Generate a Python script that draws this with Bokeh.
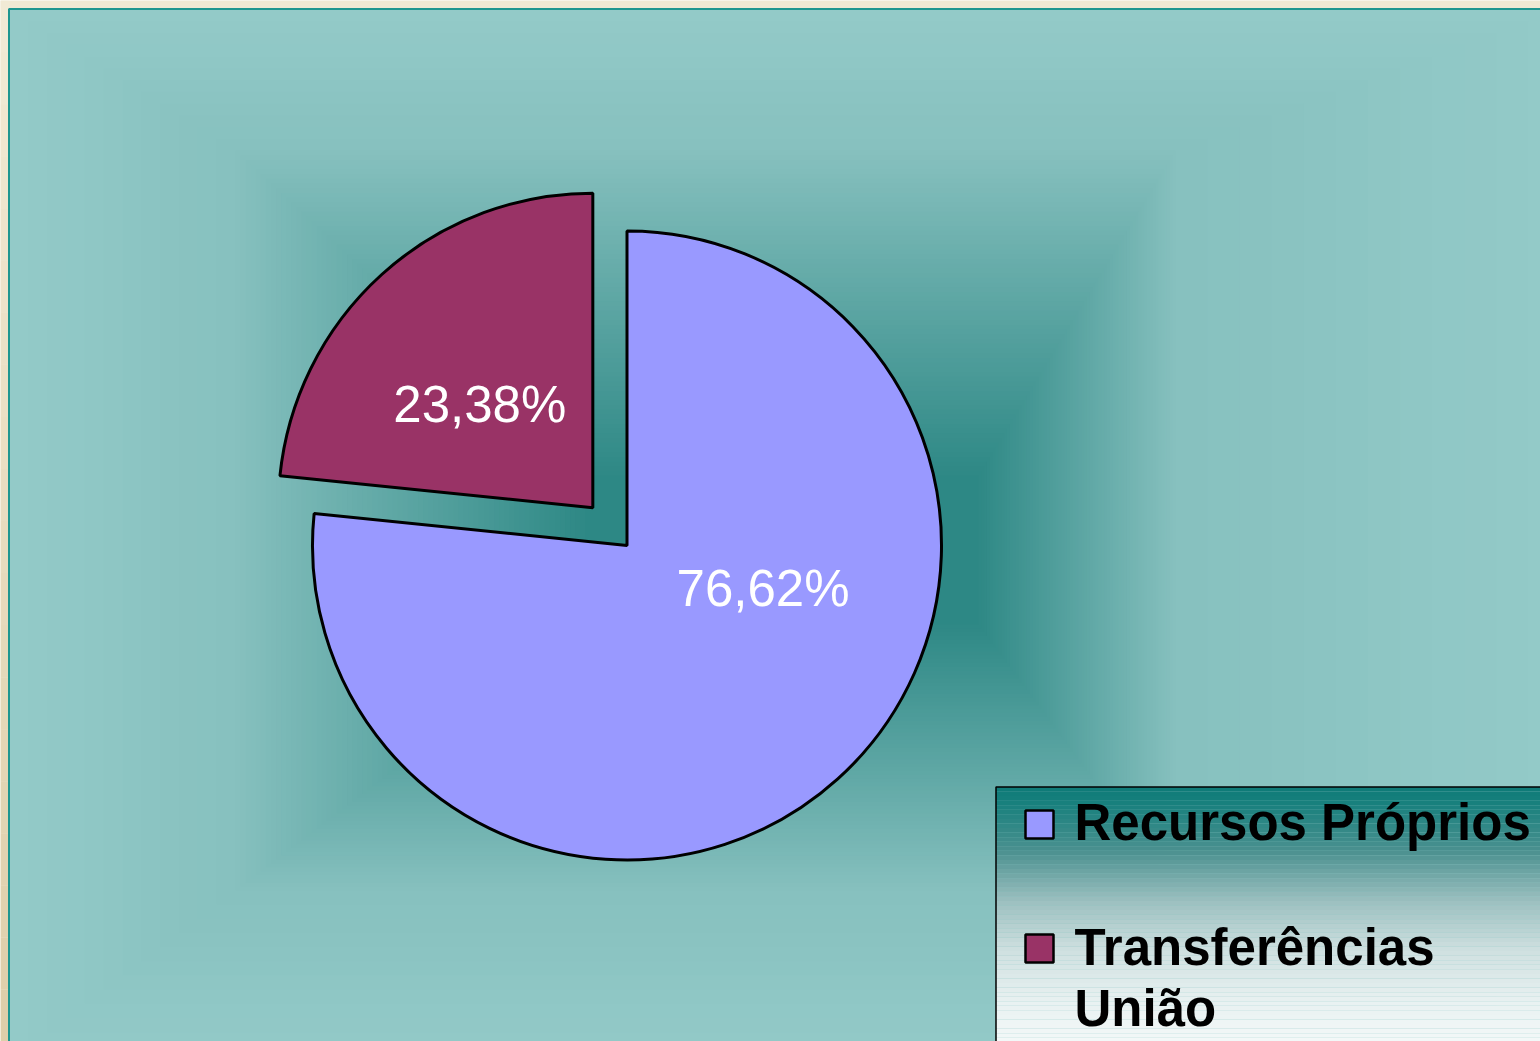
import numpy as np
from bokeh.plotting import figure
from bokeh.models import Range1d
from bokeh.core.properties import value
from bokeh.embed import file_html
from bokeh.resources import INLINE

# ---------------- data ----------------
categories = ["Recursos Próprios", "Transferências União"]
values = [76.62, 23.38]
slice_colors = ["#9999FF", "#993366"]
label_texts = ["76,62%", "23,38%"]
legend_lines = [["Recursos Próprios"], ["Transferências", "União"]]

# ---------------- layout / style ----------------
W, H = 1540, 1041
FONT = "Liberation Sans"
TEXT_SHIFT = 17  # compensation for baseline placement of the renderer


def sy(y):
    """screen y (down) -> data y (up)"""
    return H - y


def hex2rgb(h):
    h = h.lstrip("#")
    return np.array([int(h[i:i + 2], 16) for i in (0, 2, 4)], dtype=float)


def rgb2hex(c):
    c = np.clip(np.round(c), 0, 255).astype(int)
    return "#%02x%02x%02x" % tuple(c)


p = figure(width=W, height=H, x_range=Range1d(0, W), y_range=Range1d(0, H),
           output_backend="svg", toolbar_location=None, min_border=0)
p.axis.visible = False
p.grid.visible = False
p.outline_line_color = None
p.background_fill_color = "#F0E9D4"
p.border_fill_color = "#F0E9D4"

# beige frame: left strip vertical gradient
n = 20
ys = np.linspace(0, H, n + 1)
ctop, cbot = hex2rgb("#F1EAD5"), hex2rgb("#DECFAA")
cols = [rgb2hex(ctop + (cbot - ctop) * (i / (n - 1))) for i in range(n)]
p.quad(left=[0] * n, right=[9] * n, top=[sy(v) for v in ys[:-1]],
       bottom=[sy(v) for v in ys[1:]], fill_color=cols, line_color=None)

# teal background: nested rectangle gradient
stages = [
    ((9, 1560, 9, 1060), (235, 1175, 150, 890), "#93CAC8", "#86C0BE", 12),
    ((235, 1175, 150, 890), (590, 975, 480, 620), "#86C0BE", "#2C8784", 70),
]
L, R, T, B, C = [], [], [], [], []
for (o, i_, c0, c1, steps) in stages:
    o = np.array(o, float)
    i_ = np.array(i_, float)
    a0, a1 = hex2rgb(c0), hex2rgb(c1)
    for k in range(steps):
        t = k / steps
        rect = o + (i_ - o) * t
        L.append(rect[0]); R.append(rect[1]); T.append(sy(rect[2])); B.append(sy(rect[3]))
        C.append(rgb2hex(a0 + (a1 - a0) * t))
p.quad(left=L, right=R, top=T, bottom=B, fill_color=C, line_color=None)

# teal border line of the plot area
p.line(x=[8.5, 8.5, 1560], y=[sy(1060), sy(8.5), sy(8.5)], line_color="#1E9690", line_width=2)

# ---------------- pie ----------------
cx, cy, r = 626.5, sy(545), 314.5
explode = [0, 51]
label_offsets = [(136, -60), (-113, 86)]  # relative to (exploded) slice center, text baseline

vals = np.array(values, float)
cum = np.concatenate([[0], np.cumsum(vals / vals.sum())])
for i in range(len(vals)):
    start = np.pi / 2 - 2 * np.pi * cum[i + 1]
    end = np.pi / 2 - 2 * np.pi * cum[i]
    mid = (start + end) / 2
    x0 = cx + explode[i] * np.cos(mid)
    y0 = cy + explode[i] * np.sin(mid)
    p.wedge(x=x0, y=y0, radius=r, start_angle=start, end_angle=end,
            direction="anticlock", fill_color=slice_colors[i],
            line_color="black", line_width=3)
    p.text(x=[x0 + label_offsets[i][0]], y=[y0 + label_offsets[i][1] + TEXT_SHIFT],
           text=[label_texts[i]],
           text_font=value(FONT), text_font_size="51px", text_color="white",
           text_align="center", text_baseline="alphabetic")

# ---------------- legend ----------------
lg_l, lg_t, lg_r, lg_b = 995.5, 786.5, 1560, 1060
stops_y = [786, 800, 850, 900, 950, 1000, 1041]
stops_c = ["#0E7A77", "#157F7C", "#4A908F", "#9BBFBF", "#CFE0E0", "#E8F1F1", "#F3F8F8"]
stops_rgb = np.array([hex2rgb(c) for c in stops_c])
m = 60
edges = np.linspace(lg_t, lg_b, m + 1)
gl, gr, gt, gb, gc = [], [], [], [], []
for k in range(m):
    yc = (edges[k] + edges[k + 1]) / 2
    c = np.array([np.interp(yc, stops_y, stops_rgb[:, j]) for j in range(3)])
    gl.append(lg_l); gr.append(lg_r); gt.append(sy(edges[k])); gb.append(sy(edges[k + 1])); gc.append(rgb2hex(c))
p.quad(left=gl, right=gr, top=gt, bottom=gb, fill_color=gc, line_color=None)
p.quad(left=[lg_l], right=[lg_r], top=[sy(lg_t)], bottom=[sy(lg_b)],
       fill_color=None, line_color="black", line_width=1.5)

sq_x, sq_size = 1025, 28
item_top = [810, 934]
text_x = 1074
first_baseline = [839, 964]
line_h = 61
for i, lines in enumerate(legend_lines):
    p.quad(left=[sq_x], right=[sq_x + sq_size], top=[sy(item_top[i])],
           bottom=[sy(item_top[i] + sq_size)], fill_color=slice_colors[i],
           line_color="black", line_width=2.5)
    for j, ln in enumerate(lines):
        p.text(x=[text_x], y=[sy(first_baseline[i] + j * line_h) + TEXT_SHIFT], text=[ln],
               text_font=value(FONT), text_font_size="51px", text_font_style="bold",
               text_color="black", text_align="left", text_baseline="alphabetic")

open("out.html", "w").write(file_html(p, INLINE))
